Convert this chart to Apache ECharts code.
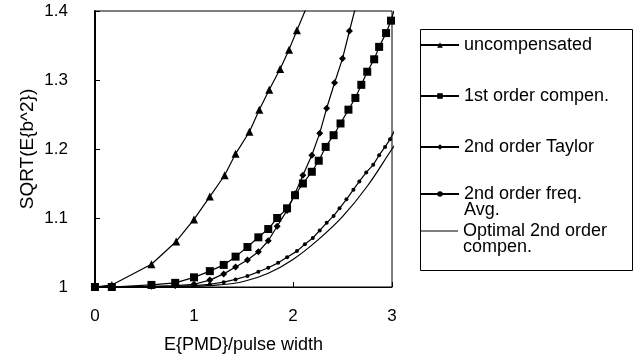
<!DOCTYPE html>
<html>
<head>
<meta charset="utf-8">
<script src="https://cdn.jsdelivr.net/npm/echarts@6/dist/echarts.min.js"></script>
<style>
  html, body { margin: 0; padding: 0; background: #fff; }
  #chart { width: 638px; height: 363px; }
</style>
</head>
<body>
<div id="chart"></div>
<script>
// axis ticks
const xTicks = [0, 1, 2, 3];
const yTicks = [1, 1.1, 1.2, 1.3, 1.4];

const names = [
  'uncompensated',
  '1st order compen.',
  '2nd order Taylor',
  '2nd order freq.\nAvg.',
  'Optimal 2nd order\ncompen.',
];

// [E{PMD}/pulse width, SQRT(E{b^2})]
const uncompensated = [[0, 1], [0.17, 1.003], [0.57, 1.033], [0.82, 1.066], [1.0, 1.098], [1.16, 1.131],
  [1.31, 1.162], [1.42, 1.193], [1.56, 1.225], [1.66, 1.257], [1.76, 1.286], [1.87, 1.316],
  [1.96, 1.344], [2.04, 1.372], [2.13, 1.403]];
const firstOrder = [[0, 1], [0.17, 1.0], [0.57, 1.003], [0.81, 1.006], [1.0, 1.014], [1.16, 1.023],
  [1.30, 1.032], [1.42, 1.044], [1.54, 1.058], [1.65, 1.072], [1.75, 1.084], [1.84, 1.100],
  [1.94, 1.114], [2.02, 1.133], [2.10, 1.150], [2.19, 1.167], [2.26, 1.183], [2.33, 1.203],
  [2.41, 1.220], [2.48, 1.237], [2.56, 1.257], [2.63, 1.274], [2.69, 1.293], [2.75, 1.312],
  [2.82, 1.330], [2.87, 1.348], [2.94, 1.368], [2.99, 1.386], [3.03, 1.405]];
const taylor = [[0, 1], [0.17, 1.0], [0.57, 1.001], [0.81, 1.002], [1.0, 1.004], [1.16, 1.010],
  [1.30, 1.019], [1.42, 1.029], [1.54, 1.039], [1.65, 1.051], [1.75, 1.067], [1.84, 1.088],
  [1.94, 1.111], [2.02, 1.135], [2.10, 1.162], [2.19, 1.191], [2.27, 1.223], [2.34, 1.259],
  [2.42, 1.296], [2.50, 1.331], [2.57, 1.371], [2.64, 1.41]];
const freqAvg = [[0, 1], [0.17, 1.0], [0.57, 1.0], [0.81, 1.001], [1.0, 1.002], [1.16, 1.004],
  [1.30, 1.007], [1.42, 1.011], [1.54, 1.016], [1.65, 1.022], [1.75, 1.028], [1.85, 1.035],
  [1.94, 1.043], [2.04, 1.052], [2.12, 1.062], [2.20, 1.071], [2.27, 1.082], [2.34, 1.093],
  [2.41, 1.103], [2.47, 1.114], [2.54, 1.127], [2.61, 1.141], [2.67, 1.153], [2.74, 1.166],
  [2.81, 1.177], [2.87, 1.191], [2.93, 1.203], [2.98, 1.214], [3.03, 1.228]];
const optimal = [[0, 1], [0.5, 1.0], [1.0, 1.001], [1.25, 1.003], [1.5, 1.008], [1.75, 1.020],
  [2.0, 1.040], [2.25, 1.068], [2.5, 1.102], [2.75, 1.146], [3.0, 1.20], [3.05, 1.21]];

const font = 'Liberation Sans, Arial, Helvetica, sans-serif';
const black = '#000';

const lineSeries = (name, data, symbol, size, smooth) => ({
  name,
  type: 'line',
  data,
  symbol,
  symbolSize: size,
  showSymbol: symbol !== 'none',
  smooth: smooth || false,
  clip: true,
  color: black,
  lineStyle: { color: black, width: 1.2 },
  itemStyle: { color: black },
  emphasis: { disabled: true },
  animation: false,
});

const legendBase = {
  orient: 'vertical',
  left: 420,
  padding: 0,
  itemWidth: 38,
  itemHeight: 7,
  itemGap: 33,
  selectedMode: false,
  textStyle: { color: black, fontSize: 18, fontFamily: font, lineHeight: 18 },
};

// two-line entries: an empty first line keeps the marker level with the first text line
const twoLineText = { color: black, fontSize: 18, fontFamily: font, lineHeight: 16 };

const chart = echarts.init(document.getElementById('chart'), null, { renderer: 'canvas' });
chart.setOption({
  backgroundColor: '#fff',
  animation: false,
  grid: {
    left: 95, right: 246, top: 11, bottom: 76,
    show: true, borderColor: black, borderWidth: 1, backgroundColor: 'transparent',
  },
  xAxis: {
    type: 'value',
    min: xTicks[0],
    max: xTicks[xTicks.length - 1],
    interval: 1,
    name: 'E{PMD}/pulse width',
    nameLocation: 'middle',
    nameGap: 49,
    nameTextStyle: { color: black, fontSize: 18, fontFamily: font },
    axisLine: { show: true, lineStyle: { color: black, width: 1 } },
    axisTick: { show: true, inside: true, length: 5, lineStyle: { color: black } },
    axisLabel: { color: black, fontSize: 17, fontFamily: font, margin: 21 },
    splitLine: { show: false },
  },
  yAxis: {
    type: 'value',
    min: yTicks[0],
    max: yTicks[yTicks.length - 1],
    interval: 0.1,
    name: 'SQRT(E{b^2})',
    nameLocation: 'middle',
    nameGap: 58,
    nameTextStyle: { color: black, fontSize: 19, fontFamily: font },
    axisLine: { show: true, lineStyle: { color: black, width: 2 } },
    axisTick: { show: true, inside: true, length: 5, lineStyle: { color: black } },
    axisLabel: { color: black, fontSize: 17, fontFamily: font, margin: 27 },
    splitLine: { show: false },
  },
  legend: [
    Object.assign({}, legendBase, { top: 36, data: names.slice(0, 3) }),
    Object.assign({}, legendBase, {
      top: 193 - 24,
      formatter: ' \n{name}',
      textStyle: twoLineText,
      data: [names[3]],
    }),
    Object.assign({}, legendBase, {
      top: 230 - 24,
      formatter: ' \n{name}',
      textStyle: twoLineText,
      data: [{ name: names[4], icon: 'path://M0,0 L40,0 L40,1 L0,1 Z' }],
    }),
  ],
  graphic: [{
    type: 'rect',
    left: 418, top: 27,
    shape: { width: 212, height: 241 },
    style: { fill: 'none', stroke: black, lineWidth: 1 },
    silent: true,
  }],
  series: [
    lineSeries(names[0], uncompensated, 'triangle', 8),
    lineSeries(names[1], firstOrder, 'rect', 8),
    lineSeries(names[2], taylor, 'diamond', 7),
    lineSeries(names[3], freqAvg, 'circle', 4),
    lineSeries(names[4], optimal, 'none', 0, 0.4),
  ],
});
</script>
</body>
</html>
